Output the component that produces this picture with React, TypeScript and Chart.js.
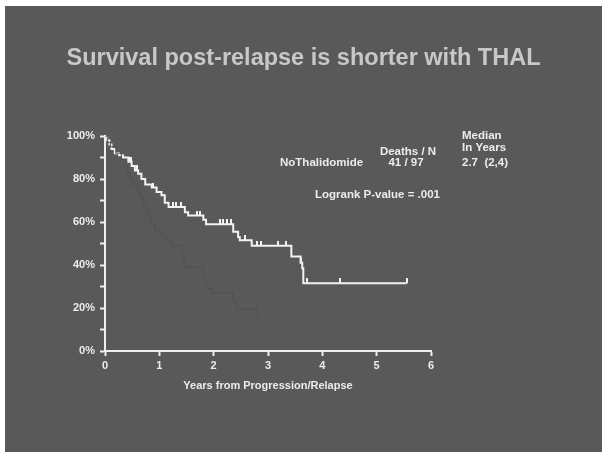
import React, { useEffect, useRef } from "react";
import { Chart, registerables } from "chart.js";

Chart.register(...registerables);

// ---- Data ----
const titleText = "Survival post-relapse is shorter with THAL";
const xAxisTitle = "Years from Progression/Relapse";

// No-thalidomide Kaplan-Meier curve (years, % surviving)
const noThalTimes = [0, 0.04, 0.08, 0.12, 0.18, 0.26, 0.33, 0.43, 0.49, 0.55, 0.61, 0.67, 0.74, 0.86, 0.95, 1.04, 1.1, 1.17, 1.47, 1.53, 1.81, 1.86, 2.36, 2.45, 2.48, 2.7, 3.43, 3.6, 3.63, 3.65, 5.55];
const noThalSurv = [100, 98, 96, 94, 92, 91, 90, 88, 86, 84, 82.5, 80, 77.5, 76, 74, 72.5, 69, 67, 64.5, 63, 61, 59, 55.5, 53, 51.5, 49, 44, 41, 38.5, 31.5, 31.5];

// Censoring marks on the no-thalidomide curve
const noThalCensorTimes = [0.03, 0.45, 0.47, 0.58, 0.88, 1.25, 1.3, 1.4, 1.7, 1.75, 2.12, 2.17, 2.24, 2.31, 2.58, 2.79, 2.88, 3.19, 3.34, 3.61, 3.71, 4.33, 5.55];
const noThalCensorSurv = [100, 88, 88, 84, 76, 67, 67, 67, 63, 63, 59, 59, 59, 59, 51.5, 49, 49, 49, 49, 41, 31.5, 31.5, 31.5];

// Thalidomide Kaplan-Meier curve (dark line)
const thalTimes = [0, 0.05, 0.1, 0.2, 0.3, 0.37, 0.42, 0.46, 0.52, 0.61, 0.66, 0.71, 0.76, 0.8, 0.86, 0.92, 1.04, 1.13, 1.23, 1.41, 1.44, 1.47, 1.81, 1.84, 1.9, 1.96, 2.36, 2.42, 2.79, 2.86];
const thalSurv = [100, 97, 95, 92, 89, 86, 83, 80, 77, 74, 71, 68, 65, 62, 59, 56, 53, 51, 49, 45, 42, 39, 36, 31, 29, 27, 23, 19.5, 16, 16];

const xTicks = [0, 1, 2, 3, 4, 5, 6];

// Annotation texts
const groupLabel = "NoThalidomide";
const deathsHeader = "Deaths / N";
const deathsValue = "41 / 97";
const medianHeader1 = "Median";
const medianHeader2 = "In Years";
const medianValue = "2.7  (2,4)";
const logrankText = "Logrank P-value = .001";

const FONT = "'Liberation Sans', Arial, Helvetica, sans-serif";
const TEXT_COLOR = "#ececec";

function makeCensorImage(): HTMLCanvasElement {
  const c = document.createElement("canvas");
  c.width = 2;
  c.height = 10;
  const g = c.getContext("2d")!;
  g.fillStyle = "#f2f2f2";
  g.fillRect(0, 0, 2, 5);
  return c;
}

const annotationPlugin = {
  id: "kmAnnotations",
  afterDraw(chart: any) {
    const ctx = chart.ctx as CanvasRenderingContext2D;
    ctx.save();
    // slide title
    ctx.fillStyle = "#c8c8c8";
    ctx.font = `bold 23.5px ${FONT}`;
    ctx.textAlign = "center";
    ctx.textBaseline = "middle";
    ctx.fillText(titleText, chart.width / 2, 52.5);
    // legend-like annotations
    ctx.fillStyle = TEXT_COLOR;
    ctx.font = `bold 11.5px ${FONT}`;
    ctx.textAlign = "left";
    ctx.fillText(groupLabel, 275, 157);
    ctx.fillText(logrankText, 310, 189);
    ctx.fillText(medianHeader1, 457, 130);
    ctx.fillText(medianHeader2, 457, 142);
    ctx.fillText(medianValue, 457, 157);
    ctx.textAlign = "center";
    ctx.fillText(deathsHeader, 403, 146);
    ctx.fillText(deathsValue, 401, 157);
    ctx.restore();
  },
};

export default function App() {
  const ref = useRef<HTMLCanvasElement | null>(null);

  useEffect(() => {
    if (!ref.current) return;
    const censorImg = makeCensorImage();
    const chart = new Chart(ref.current, {
      type: "line",
      data: {
        datasets: [
          {
            label: "Thalidomide",
            data: thalTimes.map((t, i) => ({ x: t, y: thalSurv[i] })),
            stepped: true,
            borderColor: "#515151",
            borderWidth: 1,
            pointRadius: 0,
            fill: false,
          },
          {
            label: "NoThalidomide",
            data: noThalTimes.map((t, i) => ({ x: t, y: noThalSurv[i] })),
            stepped: true,
            borderColor: "#f2f2f2",
            borderWidth: 2,
            pointRadius: 0,
            fill: false,
          },
          {
            label: "Censored",
            data: noThalCensorTimes.map((t, i) => ({ x: t, y: noThalCensorSurv[i] })),
            showLine: false,
            pointStyle: censorImg as any,
            pointRadius: 3,
          },
        ],
      },
      options: {
        responsive: false,
        animation: false,
        layout: { padding: { left: 0, right: 171, top: 130, bottom: 0 } },
        plugins: {
          legend: { display: false },
          tooltip: { enabled: false },
          title: { display: false },
        },
        scales: {
          x: {
            type: "linear",
            min: 0,
            max: 6,
            afterFit: (s: any) => {
              s.height = 101;
            },
            afterBuildTicks: (s: any) => {
              s.ticks = xTicks.map((v) => ({ value: v }));
            },
            ticks: {
              color: TEXT_COLOR,
              font: { family: FONT, size: 11, weight: "bold" },
              padding: 3,
              maxRotation: 0,
            },
            grid: {
              drawOnChartArea: false,
              drawTicks: true,
              tickLength: 5,
              tickWidth: 2,
              tickColor: "#f0f0f0",
            },
            border: { display: true, color: "#f0f0f0", width: 2 },
            title: {
              display: true,
              text: xAxisTitle,
              color: TEXT_COLOR,
              font: { family: FONT, size: 11, weight: "bold" },
              padding: { top: 0, bottom: 59.4 },
            },
          },
          y: {
            type: "linear",
            min: 0,
            max: 100,
            afterFit: (s: any) => {
              s.width = 100;
            },
            ticks: {
              stepSize: 10,
              color: TEXT_COLOR,
              font: { family: FONT, size: 11, weight: "bold" },
              padding: 5,
              callback: (v: any) => (Number(v) % 20 === 0 ? `${v}%` : ""),
            },
            grid: {
              drawOnChartArea: false,
              drawTicks: true,
              tickLength: 5,
              tickWidth: 2,
              tickColor: "#f0f0f0",
            },
            border: { display: true, color: "#f0f0f0", width: 2 },
          },
        },
      },
      plugins: [annotationPlugin],
    });
    return () => chart.destroy();
  }, []);

  return (
    <div style={{ position: "absolute", left: 0, top: 0, width: 602, height: 452, background: "#ffffff" }}>
      <div style={{ position: "absolute", left: 5, top: 6, width: 597, height: 446, background: "#595959" }}>
        <canvas ref={ref} width={597} height={446} style={{ display: "block", width: 597, height: 446 }} />
      </div>
    </div>
  );
}
